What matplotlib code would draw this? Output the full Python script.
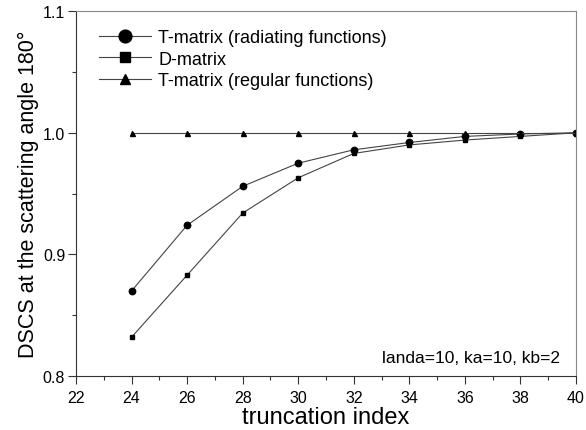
import matplotlib
matplotlib.use("Agg")
import matplotlib.pyplot as plt
from matplotlib.ticker import MultipleLocator

plt.rcParams["font.family"] = ["Liberation Sans", "DejaVu Sans"]

# 데이터
trunc = [24, 26, 28, 30, 32, 34, 36, 38, 40]
t_radiating = [0.870, 0.924, 0.956, 0.975, 0.986, 0.992, 0.997, 0.999, 1.000]
d_matrix = [0.832, 0.883, 0.934, 0.963, 0.983, 0.990, 0.994, 0.997, 1.000]
t_regular = [1.000, 1.000, 1.000, 1.000, 1.000, 1.000, 1.000, 1.000, 1.000]

fig = plt.figure(figsize=(5.86, 4.31), dpi=100)
ax = fig.add_axes([0.1297, 0.125, 0.8533, 0.847])

line_kw = dict(color="#444444", linewidth=0.8, markerfacecolor="black", markeredgecolor="black")
ax.plot(trunc, t_radiating, marker="o", markersize=4.6, label="T-matrix (radiating functions)", **line_kw)
ax.plot(trunc, d_matrix, marker="s", markersize=3.3, label="D-matrix", **line_kw)
ax.plot(trunc, t_regular, marker="^", markersize=3.6, label="T-matrix (regular functions)", **line_kw)

ax.set_xlim(22, 40)
ax.set_ylim(0.8, 1.1)
ax.xaxis.set_major_locator(MultipleLocator(2))
ax.xaxis.set_minor_locator(MultipleLocator(1))
ax.yaxis.set_major_locator(MultipleLocator(0.1))
ax.yaxis.set_minor_locator(MultipleLocator(0.05))
ax.yaxis.set_major_formatter(plt.FuncFormatter(lambda v, p: f"{v:.1f}"))

ax.tick_params(which="both", direction="out", colors="#333333", labelcolor="black", labelsize=11.5, width=0.8)
ax.tick_params(which="major", length=5.8)
ax.tick_params(axis="x", which="major", pad=4)
ax.tick_params(axis="y", which="major", pad=2)
ax.tick_params(which="minor", length=3)
for side in ["left", "bottom"]:
    ax.spines[side].set_color("#333333")
    ax.spines[side].set_linewidth(0.8)
for side in ["top", "right"]:
    ax.spines[side].set_color("#888888")
    ax.spines[side].set_linewidth(0.8)

ax.set_xlabel("truncation index", fontsize=17, labelpad=1)
ax.set_ylabel("DSCS at the scattering angle 180°", fontsize=15.5, labelpad=3)

ax.legend(loc="upper left", frameon=False, fontsize=13, handlelength=2.9, handletextpad=0.4,
          markerscale=2.0, borderaxespad=0.3, labelspacing=0.25, bbox_to_anchor=(0.02, 0.985))

ax.text(0.968, 0.03, "landa=10, ka=10, kb=2", transform=ax.transAxes,
        ha="right", va="bottom", fontsize=12.5)

fig.savefig("out.png", dpi=100, facecolor="white")
plt.close(fig)
